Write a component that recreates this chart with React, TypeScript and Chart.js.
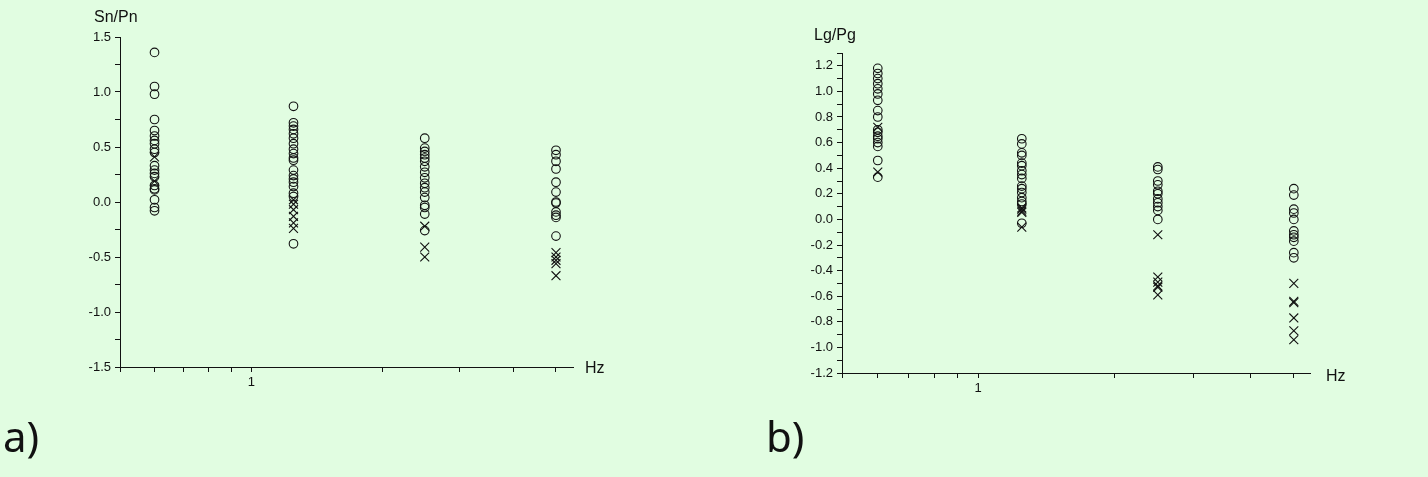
import React, { useEffect, useRef } from "react";
import { Chart, registerables } from "chart.js";

Chart.register(...registerables);

const BG = "#E1FDE1";
const INK = "#111";

// Frequencies (Hz) of the four columns
const FREQS = [0.6, 1.25, 2.5, 5];
const X_TICKS = [0.5, 0.6, 0.7, 0.8, 0.9, 1, 2, 3, 4, 5];

// Panel a) Sn/Pn
const SN_CIRCLES = [
  [1.36, 1.05, 0.98, 0.75, 0.65, 0.6, 0.56, 0.53, 0.48, 0.45, 0.33, 0.29, 0.26, 0.23, 0.15, 0.12, 0.11, 0.02, -0.05, -0.08],
  [0.87, 0.72, 0.69, 0.66, 0.62, 0.58, 0.53, 0.48, 0.44, 0.4, 0.38, 0.29, 0.24, 0.21, 0.18, 0.14, 0.08, 0.05, -0.38],
  [0.58, 0.49, 0.46, 0.43, 0.4, 0.37, 0.32, 0.27, 0.22, 0.17, 0.13, 0.09, 0.04, -0.03, -0.05, -0.11, -0.26],
  [0.47, 0.43, 0.37, 0.3, 0.18, 0.09, 0.0, -0.01, -0.09, -0.12, -0.14, -0.31],
];
const SN_CROSSES = [
  [0.41, 0.19],
  [0.02, -0.02, -0.07, -0.13, -0.19, -0.24],
  [-0.22, -0.41, -0.5],
  [-0.46, -0.5, -0.53, -0.56, -0.67],
];
const SN_Y_TICKS = [-1.5, -1.25, -1, -0.75, -0.5, -0.25, 0, 0.25, 0.5, 0.75, 1, 1.25, 1.5];

// Panel b) Lg/Pg
const LG_CIRCLES = [
  [1.18, 1.14, 1.1, 1.06, 1.02, 0.98, 0.93, 0.85, 0.8, 0.7, 0.68, 0.65, 0.63, 0.6, 0.57, 0.46, 0.33],
  [0.63, 0.59, 0.52, 0.5, 0.44, 0.42, 0.38, 0.35, 0.32, 0.26, 0.24, 0.21, 0.17, 0.14, 0.12, -0.03],
  [0.41, 0.39, 0.3, 0.27, 0.22, 0.2, 0.16, 0.13, 0.1, 0.07, 0.0],
  [0.24, 0.19, 0.08, 0.05, 0.0, -0.09, -0.12, -0.14, -0.17, -0.26, -0.3],
];
const LG_CROSSES = [
  [0.72, 0.37],
  [0.09, 0.08, 0.065, 0.055, -0.06],
  [-0.12, -0.45, -0.49, -0.52, -0.53, -0.59],
  [-0.5, -0.64, -0.65, -0.77, -0.87, -0.94],
];
const LG_Y_TICKS = [-1.2, -1.1, -1, -0.9, -0.8, -0.7, -0.6, -0.5, -0.4, -0.3, -0.2, -0.1, 0, 0.1, 0.2, 0.3, 0.4, 0.5, 0.6, 0.7, 0.8, 0.9, 1, 1.1, 1.2, 1.3];

type Panel = {
  circles: number[][];
  crosses: number[][];
  yTicks: number[];
  yMin: number;
  yMax: number;
  xMax: number;
  labelEvery: number;
  title: string;
  panelLabel: string;
  area: { left: number; top: number; right: number; bottom: number };
  titlePos: [number, number];
  hzPos: [number, number];
  panelPos: [number, number];
};

const W = 714;
const H = 477;

const toPoints = (cols: number[][]) =>
  cols.flatMap((col, i) => col.map((v) => ({ x: FREQS[i], y: v })));

function makeConfig(p: Panel): any {
  const textPlugin = {
    id: "texts",
    afterDraw(chart: any) {
      const ctx = chart.ctx;
      ctx.save();
      ctx.fillStyle = INK;
      ctx.textBaseline = "alphabetic";
      ctx.textAlign = "left";
      ctx.font = "16px 'Liberation Sans', Arial, sans-serif";
      ctx.fillText(p.title, p.titlePos[0], p.titlePos[1]);
      ctx.fillText("Hz", p.hzPos[0], p.hzPos[1]);
      ctx.font = "42px 'Noto Sans', sans-serif";
      ctx.fillText(p.panelLabel, p.panelPos[0], p.panelPos[1]);
      ctx.restore();
    },
  };
  return {
    type: "scatter",
    data: {
      datasets: [
        {
          data: toPoints(p.circles),
          pointStyle: "circle",
          pointRadius: 4.3,
          pointBorderWidth: 1.1,
          pointBorderColor: INK,
          pointBackgroundColor: "rgba(0,0,0,0)",
        },
        {
          data: toPoints(p.crosses),
          pointStyle: "crossRot",
          pointRadius: 6.3,
          pointBorderWidth: 1.1,
          pointBorderColor: INK,
          pointBackgroundColor: INK,
        },
      ],
    },
    options: {
      responsive: false,
      animation: false,
      devicePixelRatio: 1,
      layout: {
        padding: { left: 0, top: p.area.top, right: W - p.area.right, bottom: 0 },
      },
      plugins: { legend: { display: false }, tooltip: { enabled: false } },
      scales: {
        x: {
          type: "logarithmic",
          min: 0.5,
          max: p.xMax,
          afterBuildTicks: (s: any) => {
            s.ticks = X_TICKS.map((v) => ({ value: v }));
          },
          afterFit: (s: any) => {
            s.height = H - p.area.bottom;
          },
          ticks: {
            autoSkip: false,
            maxRotation: 0,
            padding: 3,
            color: INK,
            font: { family: "'Liberation Sans', Arial, sans-serif", size: 13 },
            callback: (v: number) => (v === 1 ? "1" : ""),
          },
          grid: {
            drawOnChartArea: false,
            drawTicks: true,
            tickLength: 5,
            tickColor: INK,
            color: INK,
          },
          border: { display: true, color: INK, width: 1 },
        },
        y: {
          type: "linear",
          min: p.yMin,
          max: p.yMax,
          afterBuildTicks: (s: any) => {
            s.ticks = p.yTicks.map((v) => ({ value: v }));
          },
          afterFit: (s: any) => {
            s.width = p.area.left;
          },
          ticks: {
            autoSkip: false,
            padding: 4,
            color: INK,
            font: { family: "'Liberation Sans', Arial, sans-serif", size: 13 },
            callback: (v: number) => {
              const k = Math.round(v / p.labelEvery * 1000) / 1000;
              return Number.isInteger(k) ? v.toFixed(1) : "";
            },
          },
          grid: {
            drawOnChartArea: false,
            drawTicks: true,
            tickLength: 5,
            tickColor: INK,
            color: INK,
          },
          border: { display: true, color: INK, width: 1 },
        },
      },
    },
    plugins: [textPlugin],
  };
}

const PANEL_A: Panel = {
  circles: SN_CIRCLES,
  crosses: SN_CROSSES,
  yTicks: SN_Y_TICKS,
  yMin: -1.5,
  yMax: 1.5,
  xMax: 5.47,
  labelEvery: 0.5,
  title: "Sn/Pn",
  panelLabel: "a)",
  area: { left: 120, top: 37, right: 573, bottom: 367 },
  titlePos: [94, 22],
  hzPos: [585, 373],
  panelPos: [3, 452],
};

const PANEL_B: Panel = {
  circles: LG_CIRCLES,
  crosses: LG_CROSSES,
  yTicks: LG_Y_TICKS,
  yMin: -1.2,
  yMax: 1.3,
  xMax: 5.43,
  labelEvery: 0.2,
  title: "Lg/Pg",
  panelLabel: "b)",
  area: { left: 128, top: 53, right: 596, bottom: 373 },
  titlePos: [100, 40],
  hzPos: [612, 381],
  panelPos: [52, 452],
};

function ChartCanvas({ panel, left }: { panel: Panel; left: number }) {
  const ref = useRef<HTMLCanvasElement | null>(null);
  useEffect(() => {
    if (!ref.current) return;
    const chart = new Chart(ref.current, makeConfig(panel));
    return () => chart.destroy();
  }, [panel]);
  return (
    <canvas
      ref={ref}
      width={W}
      height={H}
      style={{ position: "absolute", left, top: 0, width: W, height: H }}
    />
  );
}

export default function App() {
  useEffect(() => {
    document.body.style.margin = "0";
    document.body.style.background = BG;
  }, []);
  return (
    <div style={{ position: "relative", width: 1428, height: 477, background: BG, overflow: "hidden" }}>
      <ChartCanvas panel={PANEL_A} left={0} />
      <ChartCanvas panel={PANEL_B} left={714} />
    </div>
  );
}
